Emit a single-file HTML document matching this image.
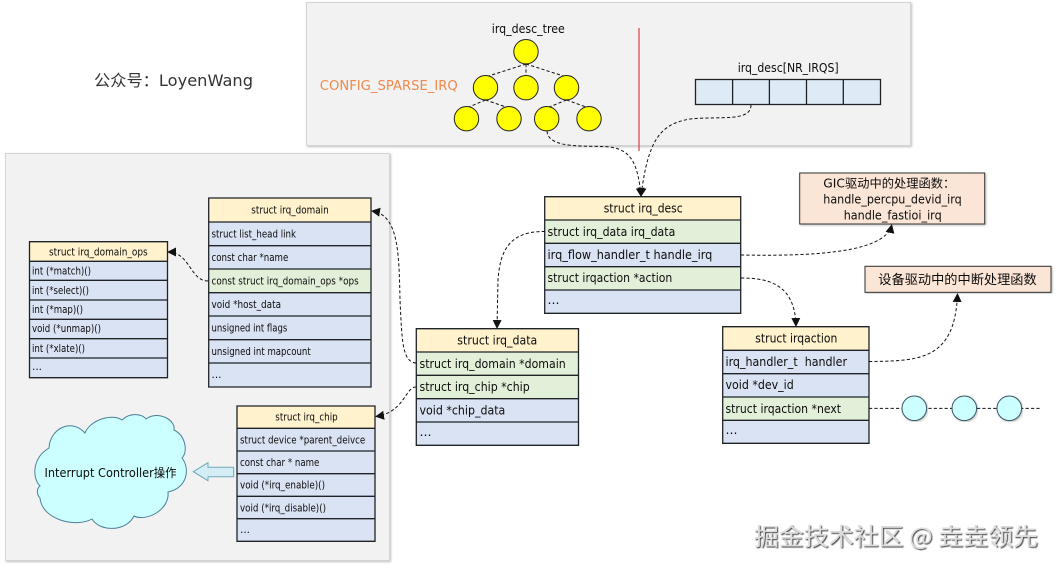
<!DOCTYPE html>
<html><head><meta charset="utf-8"><style>
html,body{margin:0;padding:0;background:#fff}
svg{display:block}
text{font-family:"DejaVu Sans","Noto Sans CJK SC",sans-serif;fill:#0c0c0c}
.s{font-size:10.5px}.m{font-size:12px}
.h{fill:#fff2cc}.b{fill:#dae3f3}.g{fill:#e2f0d9}
.r{stroke:#1f2327;stroke-width:1.3}
.d{fill:none;stroke:#111;stroke-width:1;stroke-dasharray:3.2 2.2}
.y{fill:#ffff00;stroke:#222;stroke-width:1}
.c{fill:#ccffff;stroke:#3b5564;stroke-width:1}
</style></head><body>
<svg width="1056" height="568" viewBox="0 0 1056 568" xmlns="http://www.w3.org/2000/svg">
<defs>
<marker id="a" markerWidth="9" markerHeight="9" refX="8" refY="4.5" orient="auto" markerUnits="userSpaceOnUse"><path d="M0 0L9 4.5L0 9Z" fill="#111"/></marker>
<filter id="sh" x="-5%" y="-5%" width="110%" height="110%"><feDropShadow dx="1" dy="1" stdDeviation="1" flood-color="#000" flood-opacity=".25"/></filter>
<filter id="wm" x="-5%" y="-20%" width="110%" height="140%"><feDropShadow dx="1" dy="1" stdDeviation=".4" flood-color="#222" flood-opacity=".9"/></filter>
</defs>
<rect width="1056" height="568" fill="#fff"/>

<!-- panels -->
<rect x="306.5" y="2.5" width="604" height="143" fill="#f2f2f2" stroke="#d4d4d4" filter="url(#sh)"/>
<rect x="5.5" y="153.5" width="384" height="407" fill="#f2f2f2" stroke="#d4d4d4" filter="url(#sh)"/>

<text x="94" y="86" style="font-size:16px;fill:#333" textLength="159" lengthAdjust="spacingAndGlyphs">公众号：LoyenWang</text>
<text x="319.8" y="90" style="font-size:13px;fill:#ed8a4c" textLength="138" lengthAdjust="spacingAndGlyphs">CONFIG_SPARSE_IRQ</text>
<text x="491.8" y="33" class="m" textLength="73" lengthAdjust="spacingAndGlyphs">irq_desc_tree</text>
<text x="737.7" y="72" class="m" textLength="101" lengthAdjust="spacingAndGlyphs">irq_desc[NR_IRQS]</text>

<!-- tree -->
<path class="d" d="M526 64L485.5 77M526 64V77M526 64L566.5 77M485.5 100L466.5 108M485.5 100L509 108M566.5 100L546.7 108M566.5 100L589 108"/>
<circle class="y" cx="526" cy="51.7" r="12.2"/>
<circle class="y" cx="485.5" cy="87.7" r="12.2"/>
<circle class="y" cx="526" cy="87.7" r="12.2"/>
<circle class="y" cx="566.5" cy="87.7" r="12.2"/>
<circle class="y" cx="466.5" cy="118.7" r="12.2"/>
<circle class="y" cx="509" cy="118.7" r="12.2"/>
<circle class="y" cx="546.7" cy="118.7" r="12.2"/>
<circle class="y" cx="589" cy="118.7" r="12.2"/>

<line x1="639" y1="28" x2="639" y2="151" stroke="#d9404a" stroke-width="1.2"/>

<!-- array -->
<rect x="695.5" y="79.5" width="185" height="25" class="r" style="fill:#deebf7"/>
<path class="r" fill="none" d="M732.6 79.5V104.5M769.4 79.5V104.5M806.5 79.5V104.5M843.3 79.5V104.5"/>

<!-- irq_domain_ops -->
<rect class="h" x="29.5" y="241.7" width="138" height="19.6"/><rect class="b" x="29.5" y="261.3" width="138" height="116.4"/>
<path class="r" fill="none" d="M29.5 241.7H167.5V377.7H29.5ZM29.5 261.3H167.5M29.5 280.3H167.5M29.5 300H167.5M29.5 319.3H167.5M29.5 338.7H167.5M29.5 358H167.5"/>
<text class="s" x="49" y="255.5" textLength="98.7" lengthAdjust="spacingAndGlyphs">struct irq_domain_ops</text>
<text class="s" x="32" y="274.5" textLength="59" lengthAdjust="spacingAndGlyphs">int (*match)()</text>
<text class="s" x="32" y="294" textLength="57" lengthAdjust="spacingAndGlyphs">int (*select)()</text>
<text class="s" x="32" y="313" textLength="51" lengthAdjust="spacingAndGlyphs">int (*map)()</text>
<text class="s" x="32" y="332" textLength="69" lengthAdjust="spacingAndGlyphs">void (*unmap)()</text>
<text class="s" x="32" y="352" textLength="53" lengthAdjust="spacingAndGlyphs">int (*xlate)()</text>
<text class="s" x="32" y="370" textLength="10" lengthAdjust="spacingAndGlyphs">...</text>

<!-- irq_domain -->
<rect class="h" x="208.7" y="198" width="162.3" height="24"/><rect class="b" x="208.7" y="222" width="162.3" height="165"/><rect class="g" x="208.7" y="269" width="162.3" height="23.7"/>
<path class="r" fill="none" d="M208.7 198H371V387H208.7ZM208.7 222H371M208.7 245.7H371M208.7 269H371M208.7 292.7H371M208.7 316H371M208.7 339.7H371M208.7 363H371"/>
<text class="s" x="251.3" y="213.5" textLength="77.4" lengthAdjust="spacingAndGlyphs">struct irq_domain</text>
<text class="s" x="211.5" y="237.5" textLength="84.5" lengthAdjust="spacingAndGlyphs">struct list_head link</text>
<text class="s" x="211.5" y="261" textLength="76.8" lengthAdjust="spacingAndGlyphs">const char *name</text>
<text class="s" x="211.5" y="284.5" textLength="147.2" lengthAdjust="spacingAndGlyphs">const struct irq_domain_ops *ops</text>
<text class="s" x="211.5" y="308" textLength="69.5" lengthAdjust="spacingAndGlyphs">void *host_data</text>
<text class="s" x="211.5" y="331.5" textLength="75.8" lengthAdjust="spacingAndGlyphs">unsigned int flags</text>
<text class="s" x="211.5" y="355" textLength="99.2" lengthAdjust="spacingAndGlyphs">unsigned int mapcount</text>
<text class="s" x="211.5" y="378" textLength="10" lengthAdjust="spacingAndGlyphs">...</text>

<!-- irq_chip -->
<rect class="h" x="237" y="406" width="138" height="22.3"/><rect class="b" x="237" y="428.3" width="138" height="113"/>
<path class="r" fill="none" d="M237 406H375V541.3H237ZM237 428.3H375M237 451H375M237 473.7H375M237 496.3H375M237 518.7H375"/>
<text class="s" x="275.3" y="420.5" textLength="62.4" lengthAdjust="spacingAndGlyphs">struct irq_chip</text>
<text class="s" x="240" y="443.5" textLength="125.3" lengthAdjust="spacingAndGlyphs">struct device *parent_deivce</text>
<text class="s" x="240" y="466" textLength="79.3" lengthAdjust="spacingAndGlyphs">const char * name</text>
<text class="s" x="240" y="488.5" textLength="85" lengthAdjust="spacingAndGlyphs">void (*irq_enable)()</text>
<text class="s" x="240" y="511.5" textLength="86" lengthAdjust="spacingAndGlyphs">void (*irq_disable)()</text>
<text class="s" x="240" y="533" textLength="10" lengthAdjust="spacingAndGlyphs">...</text>

<!-- cloud -->
<path class="c" style="stroke:#4a8098" d="M49 448C50 428 72 418 85 433C90 420 112 413 122 420C130 412 143 414 146 419C158 410 176 420 174 430C186 436 188 452 182 458C190 468 188 488 168 492C170 510 146 522 134 516C126 532 100 532 92 519C76 528 42 520 40 498C36 494 37 488 40 486C32 478 32 458 49 448Z"/>
<text x="44.5" y="477" style="font-size:12px" textLength="132" lengthAdjust="spacingAndGlyphs">Interrupt Controller操作</text>

<!-- block arrow -->
<path d="M193.3 471.7L208 462.7V467.3H233.7V476.7H208V480.7Z" fill="#d5eef5" stroke="#6fa8bd" stroke-width="1"/>

<!-- irq_desc -->
<rect class="h" x="544.7" y="196.7" width="196" height="23.3"/><rect class="b" x="544.7" y="220" width="196" height="93.3"/><rect class="g" x="544.7" y="220" width="196" height="23.3"/><rect class="g" x="544.7" y="266.7" width="196" height="23.3"/>
<path class="r" fill="none" d="M544.7 196.7H740.7V313.3H544.7ZM544.7 220H740.7M544.7 243.3H740.7M544.7 266.7H740.7M544.7 290H740.7"/>
<text class="m" x="603.7" y="212.5" textLength="79" lengthAdjust="spacingAndGlyphs">struct irq_desc</text>
<text class="m" x="547.5" y="236" textLength="127.8" lengthAdjust="spacingAndGlyphs">struct irq_data irq_data</text>
<text class="m" x="547.5" y="259" textLength="164.8" lengthAdjust="spacingAndGlyphs">irq_flow_handler_t handle_irq</text>
<text class="m" x="547.5" y="282" textLength="124.8" lengthAdjust="spacingAndGlyphs">struct irqaction *action</text>
<text class="m" x="547.5" y="304" textLength="12" lengthAdjust="spacingAndGlyphs">...</text>

<!-- irq_data -->
<rect class="h" x="416.3" y="328.7" width="162.2" height="23.3"/><rect class="b" x="416.3" y="352" width="162.2" height="93.3"/><rect class="g" x="416.3" y="352" width="162.2" height="46.7"/>
<path class="r" fill="none" d="M416.3 328.7H578.5V445.3H416.3ZM416.3 352H578.5M416.3 375.3H578.5M416.3 398.7H578.5M416.3 422H578.5"/>
<text class="m" x="457.3" y="344.5" textLength="80" lengthAdjust="spacingAndGlyphs">struct irq_data</text>
<text class="m" x="419.5" y="368" textLength="146.2" lengthAdjust="spacingAndGlyphs">struct irq_domain *domain</text>
<text class="m" x="419.5" y="391" textLength="110.2" lengthAdjust="spacingAndGlyphs">struct irq_chip *chip</text>
<text class="m" x="419.5" y="414.5" textLength="85.8" lengthAdjust="spacingAndGlyphs">void *chip_data</text>
<text class="m" x="419.5" y="436" textLength="12" lengthAdjust="spacingAndGlyphs">...</text>

<!-- irqaction -->
<rect class="h" x="722.7" y="326.7" width="146.3" height="23.6"/><rect class="b" x="722.7" y="350.3" width="146.3" height="93"/><rect class="g" x="722.7" y="397" width="146.3" height="23.3"/>
<path class="r" fill="none" d="M722.7 326.7H869V443.3H722.7ZM722.7 350.3H869M722.7 373.7H869M722.7 397H869M722.7 420.3H869"/>
<text class="m" x="755.3" y="342.5" textLength="82" lengthAdjust="spacingAndGlyphs">struct irqaction</text>
<text class="m" x="725.5" y="366" textLength="121.5" lengthAdjust="spacingAndGlyphs" xml:space="preserve">irq_handler_t  handler</text>
<text class="m" x="725.5" y="389" textLength="68.2" lengthAdjust="spacingAndGlyphs">void *dev_id</text>
<text class="m" x="725.5" y="413" textLength="115.5" lengthAdjust="spacingAndGlyphs">struct irqaction *next</text>
<text class="m" x="725.5" y="434" textLength="12" lengthAdjust="spacingAndGlyphs">...</text>

<!-- orange boxes -->
<rect x="799.7" y="173" width="185" height="51" fill="#fbe5d6" stroke="#333" stroke-width="1" filter="url(#sh)"/>
<text class="m" x="823.3" y="187.5" textLength="132" lengthAdjust="spacingAndGlyphs">GIC驱动中的处理函数：</text>
<text class="m" x="823.3" y="203.5" textLength="138.4" lengthAdjust="spacingAndGlyphs">handle_percpu_devid_irq</text>
<text class="m" x="843.7" y="219.5" textLength="98" lengthAdjust="spacingAndGlyphs">handle_fastioi_irq</text>
<rect x="865" y="266.3" width="186" height="26" fill="#fbe5d6" stroke="#333" stroke-width="1" filter="url(#sh)"/>
<text x="878.3" y="284" style="font-size:13px" textLength="158.4" lengthAdjust="spacingAndGlyphs">设备驱动中的中断处理函数</text>

<!-- connectors -->
<path class="d" marker-end="url(#a)" d="M547 131C548 150 590 145 610 147C632 150 638 165 641 196"/>
<path class="d" marker-end="url(#a)" d="M751 105C751 122 720 116 690 119C660 124 648 140 641 196"/>
<path class="d" marker-end="url(#a)" d="M545 231.5C510 231 500 250 498 280L497 328"/>
<path class="d" marker-end="url(#a)" d="M741 255C800 256 885 255 891.7 225"/>
<path class="d" marker-end="url(#a)" d="M741 278C770 278 795 285 796 326"/>
<path class="d" marker-end="url(#a)" d="M869 361.5C920 361 955 360 957.5 294"/>
<path class="d" marker-end="url(#a)" d="M416 363C402 362 402 340 400 300C399 250 398 215 372 211"/>
<path class="d" marker-end="url(#a)" d="M416 387C405 387 405 412 376 416.5"/>
<path class="d" marker-end="url(#a)" d="M208 281C190 281 190 252 168 252"/>
<line class="d" x1="869" y1="408.4" x2="1040" y2="408.4"/>
<circle class="c" cx="914.3" cy="408.3" r="12.3" filter="url(#sh)"/>
<circle class="c" cx="964.3" cy="408.3" r="12.3" filter="url(#sh)"/>
<circle class="c" cx="1009.3" cy="408.3" r="12.3" filter="url(#sh)"/>

<!-- watermark -->
<text x="754" y="545" filter="url(#wm)" style="font-size:24px;font-family:'Noto Sans CJK SC',sans-serif;fill:#dcdcdc" textLength="284" lengthAdjust="spacingAndGlyphs">掘金技术社区 @ 垚垚领先</text>
</svg>
</body></html>
